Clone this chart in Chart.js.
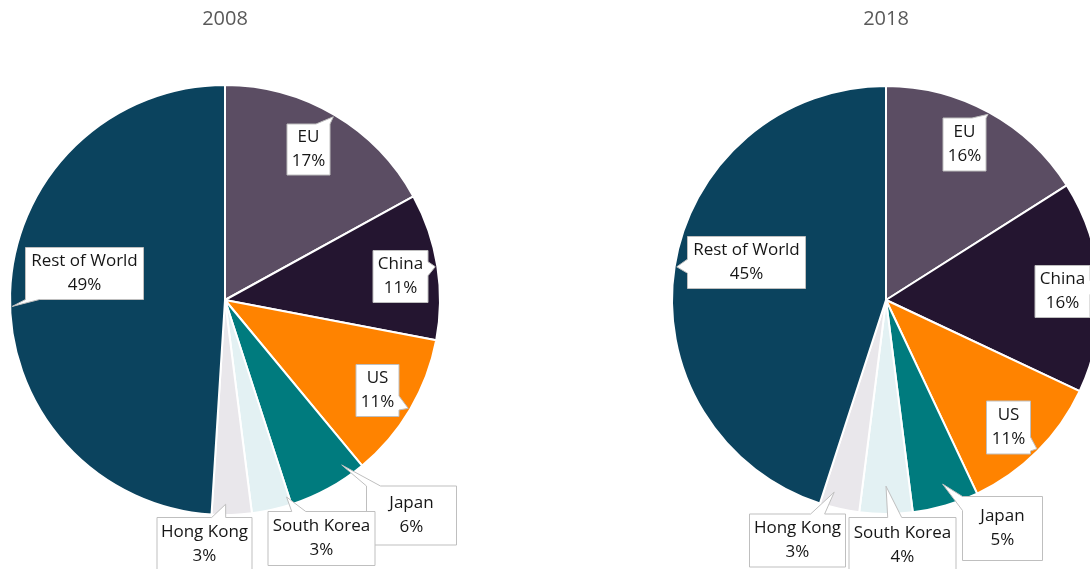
<!DOCTYPE html>
<html><head><meta charset="utf-8">
<script src="https://cdn.jsdelivr.net/npm/chart.js@4.4.0/dist/chart.umd.min.js"></script>
<style>
html,body{margin:0;padding:0;background:#fff;overflow:hidden;width:1090px;height:569px;position:relative}
canvas{position:absolute;top:0}
</style></head><body>
<canvas id="c1" width="660" height="569" style="left:0"></canvas>
<canvas id="c2" width="460" height="569" style="left:660px"></canvas>
<script>
// ---- data ----
const categories = ['EU', 'China', 'US', 'Japan', 'South Korea', 'Hong Kong', 'Rest of World'];
const share2008 = [17, 11, 11, 6, 3, 3, 49];
const share2018 = [16, 16, 11, 5, 4, 3, 45];
const years = ['2008', '2018'];

// ---- styles ----
const sliceColors = ['#5B4D63', '#241530', '#FF8300', '#007B7E', '#E3F1F3', '#E9E7EB', '#0B435E'];
const FONT = '"Open Sans", "DejaVu Sans", sans-serif';

// callout box placement (offset from pie centre, box size) and pointer tip
// (fraction along slice angle, fraction of radius)
const callouts2008 = [
  {dx: 82.5, dy: -151.5, w: 43, h: 51, af: 0.5, rf: 0.99},
  {dx: 174.5, dy: -24, w: 55, h: 52, af: 0.5, rf: 0.99},
  {dx: 151.5, dy: 90, w: 43, h: 52, af: 0.5, rf: 0.99},
  {dx: 186, dy: 214.5, w: 90, h: 59, af: 0.2, rf: 0.94},
  {dx: 95.5, dy: 238, w: 107, h: 54, af: 0.06, rf: 0.96},
  {dx: -21.5, dy: 244, w: 95, h: 54, af: 0.65, rf: 0.95},
  {dx: -141, dy: -27, w: 118, h: 52, af: 0.48, rf: 0.99}
];
const callouts2018 = [
  {dx: 77.5, dy: -156.5, w: 43, h: 53, af: 0.5, rf: 0.99},
  {dx: 176, dy: -9, w: 55, h: 52, af: 0.5, rf: 0.99},
  {dx: 122, dy: 126.5, w: 44, h: 53, af: 0.49, rf: 0.99},
  {dx: 116, dy: 228, w: 80, h: 64, af: 0.45, rf: 0.9},
  {dx: 16, dy: 245, w: 107, h: 56, af: 0.5, rf: 0.87},
  {dx: -89, dy: 239.5, w: 96, h: 53, af: 0.73, rf: 0.93},
  {dx: -140, dy: -38, w: 118, h: 52, af: 0.5, rf: 0.99}
];

function drawCallout(ctx, cx, cy, w, h, tx, ty) {
  const L = cx - w / 2, T = cy - h / 2, R = cx + w / 2, B = cy + h / 2;
  const pts = [[L, T], [R, T], [R, B], [L, B]];
  let edge = -1, hit = null;
  const inside = tx >= L && tx <= R && ty >= T && ty <= B;
  if (!inside) {
    const dx = tx - cx, dy = ty - cy;
    const sx = dx !== 0 ? (w / 2) / Math.abs(dx) : Infinity;
    const sy = dy !== 0 ? (h / 2) / Math.abs(dy) : Infinity;
    if (sy < sx) { edge = dy < 0 ? 0 : 2; hit = [cx + dx * sy, cy + dy * sy]; }
    else { edge = dx > 0 ? 1 : 3; hit = [cx + dx * sx, cy + dy * sx]; }
  }
  ctx.beginPath();
  ctx.moveTo(L, T);
  for (let e = 0; e < 4; e++) {
    const p0 = pts[e], p1 = pts[(e + 1) % 4];
    if (e === edge) {
      const len = Math.hypot(p1[0] - p0[0], p1[1] - p0[1]);
      const ux = (p1[0] - p0[0]) / len, uy = (p1[1] - p0[1]) / len;
      let s = (hit[0] - p0[0]) * ux + (hit[1] - p0[1]) * uy;
      const hw = Math.min(7, len / 4);
      s = Math.max(hw, Math.min(len - hw, s));
      ctx.lineTo(p0[0] + ux * (s - hw), p0[1] + uy * (s - hw));
      ctx.lineTo(tx, ty);
      ctx.lineTo(p0[0] + ux * (s + hw), p0[1] + uy * (s + hw));
    }
    ctx.lineTo(p1[0], p1[1]);
  }
  ctx.closePath();
  ctx.fillStyle = '#ffffff';
  ctx.fill();
  ctx.strokeStyle = '#BFBFBF';
  ctx.lineWidth = 1;
  ctx.stroke();
}

const calloutPlugin = {
  id: 'callouts',
  afterDatasetsDraw(chart, args, opts) {
    const ctx = chart.ctx;
    const meta = chart.getDatasetMeta(0);
    const values = chart.data.datasets[0].data;
    const labels = chart.data.labels;
    ctx.save();
    meta.data.forEach((arc, i) => {
      const p = arc.getProps(['x', 'y', 'startAngle', 'endAngle', 'outerRadius'], true);
      const c = opts.boxes[i];
      const a = p.startAngle + (p.endAngle - p.startAngle) * c.af;
      const tx = p.x + Math.cos(a) * p.outerRadius * c.rf;
      const ty = p.y + Math.sin(a) * p.outerRadius * c.rf;
      const bx = Math.round(p.x + c.dx) + 0.5, by = Math.round(p.y + c.dy) + 0.5;
      drawCallout(ctx, bx, by, c.w, c.h, tx, ty);
      ctx.fillStyle = '#161616';
      ctx.font = '17px ' + FONT;
      ctx.textAlign = 'center';
      ctx.textBaseline = 'middle';
      ctx.fillText(labels[i], bx, by - 12);
      ctx.fillText(values[i] + '%', bx, by + 12);
    });
    ctx.restore();
  },
  afterDraw(chart, args, opts) {
    const ctx = chart.ctx;
    const ca = chart.chartArea;
    ctx.save();
    ctx.fillStyle = '#595959';
    ctx.font = '20px ' + FONT;
    ctx.textAlign = 'center';
    ctx.textBaseline = 'middle';
    ctx.fillText(opts.title, (ca.left + ca.right) / 2, 19);
    ctx.restore();
  }
};

function makePie(id, values, title, boxes, radius, padLeft, padRight) {
  return new Chart(document.getElementById(id), {
    type: 'pie',
    data: {
      labels: categories,
      datasets: [{
        data: values,
        backgroundColor: sliceColors,
        borderColor: '#ffffff',
        borderWidth: 2
      }]
    },
    options: {
      responsive: false,
      animation: false,
      events: [],
      radius: radius,
      layout: {padding: {left: padLeft, right: padRight, top: 86, bottom: 55}},
      plugins: {
        legend: {display: false},
        tooltip: {enabled: false},
        title: {display: false},
        callouts: {title: title, boxes: boxes}
      }
    },
    plugins: [calloutPlugin]
  });
}

makePie('c1', share2008, years[0], callouts2008, 215, 11, 221);
makePie('c2', share2018, years[1], callouts2018, 214, 12, 20);
</script>
</body></html>
